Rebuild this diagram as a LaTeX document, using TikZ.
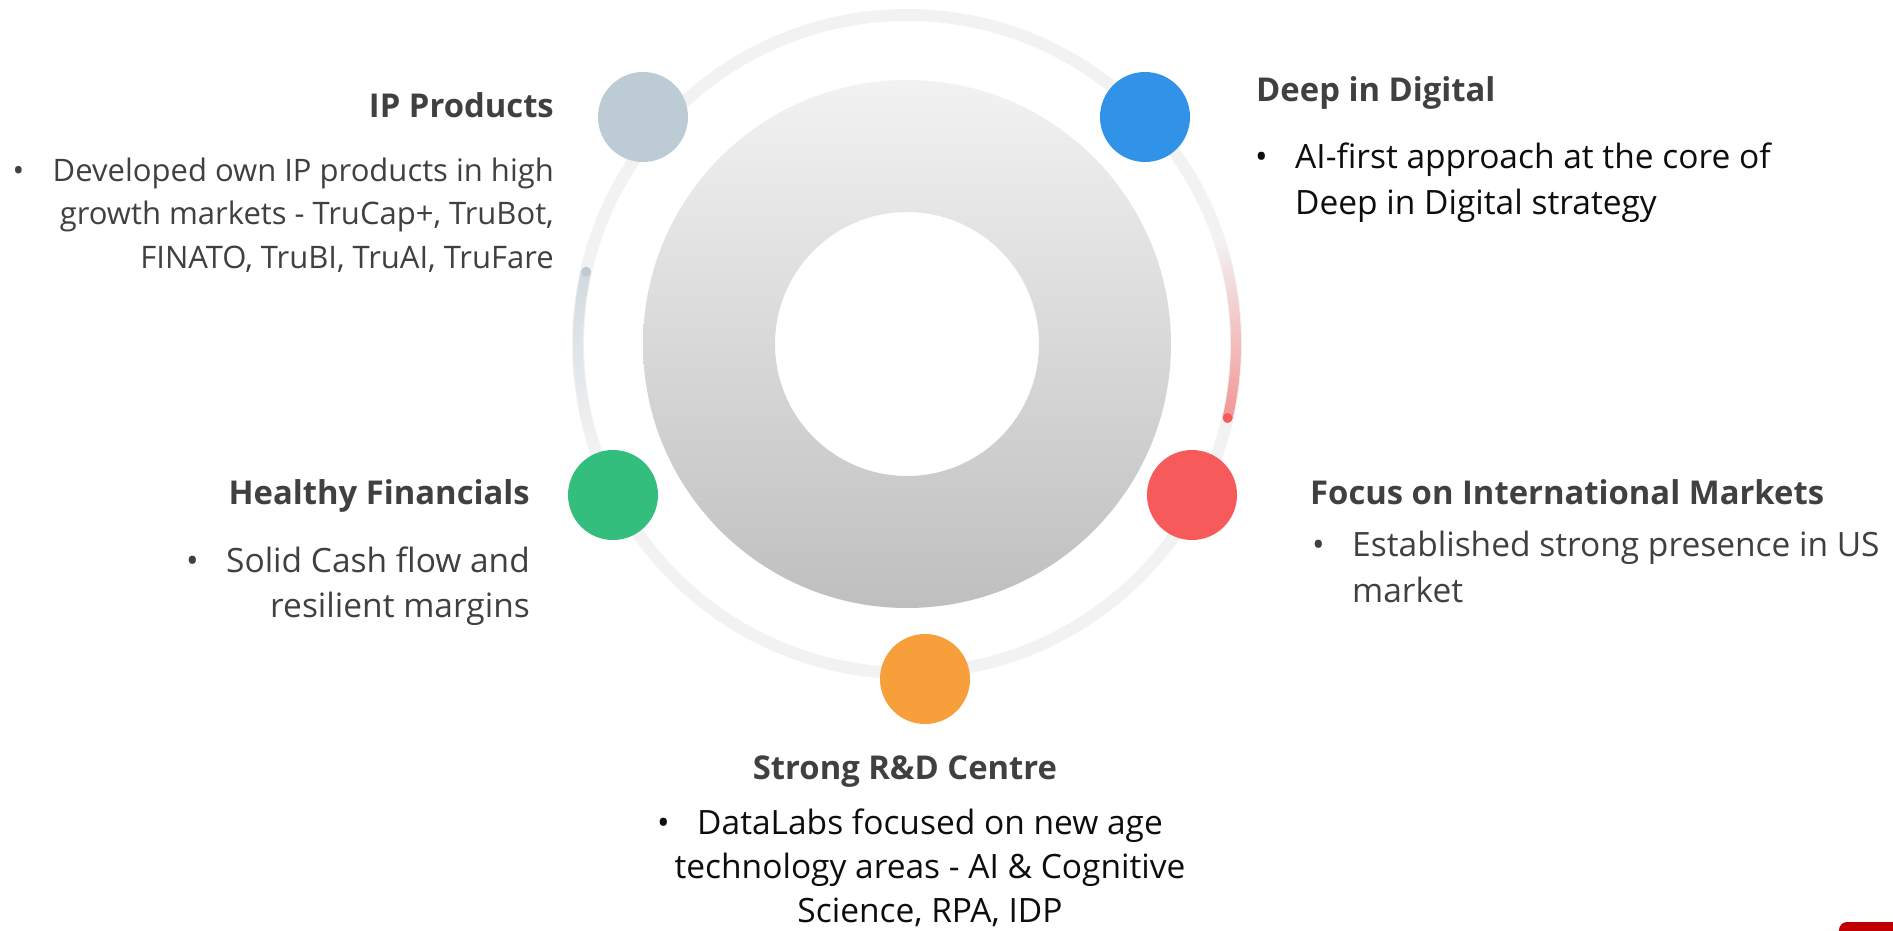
\documentclass[tikz,border=0pt]{standalone}
\usepackage{fontspec}
\setmainfont{Open Sans}
\usepackage{xcolor}
\usepackage{tikz}
\usetikzlibrary{positioning,calc}
\definecolor{ringgray}{HTML}{F2F2F2}
\definecolor{donuttop}{HTML}{F2F2F2}
\definecolor{donutbot}{HTML}{BFBFBF}
\definecolor{txtgray}{HTML}{404040}
\definecolor{txtdark}{HTML}{0D0D0D}
\definecolor{ipgray}{HTML}{BDCBD4}
\definecolor{digblue}{HTML}{3093E7}
\definecolor{fingreen}{HTML}{33BE7E}
\definecolor{intred}{HTML}{F65A5A}
\definecolor{rdorange}{HTML}{F79F3A}
\definecolor{brandred}{HTML}{C00000}
\newcommand{\bul}{\llap{\makebox[40pt][l]{\textbullet}}}
\tikzset{
  bubble/.style={circle,minimum size=90pt,inner sep=0pt,fill=#1},
  head/.style={font=\bfseries\fontsize{32.8}{40}\selectfont,text=txtgray,inner sep=0pt},
  body/.style={font=\fontsize{33.5}{#1}\selectfont,inner sep=0pt},
  body/.default=45,
}

\begin{document}
\begin{tikzpicture}[x=1pt,y=-1pt]
\useasboundingbox[fill=white] (0,0) rectangle (1893,931);
\coordinate (c) at (907,344);
\draw[ringgray,line width=12pt] (c) circle (329);
\foreach \k in {0,...,31}{
  \pgfmathtruncatemacro\pct{60-\k*60/31}
  \draw[line width=10pt,intred!\pct!ringgray] (c) ++(13-\k:329) arc[start angle=13-\k,end angle=11.8-\k,radius=329];
  \draw[line width=10pt,ipgray!\pct!ringgray] (c) ++(192.7-\k:329) arc[start angle=192.7-\k,end angle=191.5-\k,radius=329];
}
\fill[intred] (c) ++(13:329) circle (5);
\fill[ipgray] (c) ++(192.7:329) circle (5);
\shade[top color=donuttop,bottom color=donutbot,even odd rule] (c) circle (264) (c) circle (132);

\node[bubble=ipgray] (ip) at (643,117) {};
\node[bubble=digblue] (dig) at (1145,117) {};
\node[bubble=fingreen] (fin) at (613,495) {};
\node[bubble=intred] (intl) at (1192,495) {};
\node[bubble=rdorange] (rd) at (925,679) {};

\node[head,anchor=base east] (iphead) at (554,118) {IP Products};
\node[body=43.5,font=\fontsize{31}{43.5}\selectfont,text=txtgray,anchor=base east,align=right] (iptext) at (554,268)
  {\bul Developed own IP products in high\\growth markets - TruCap+, TruBot,\\FINATO, TruBI, TruAI, TruFare};
\node[head,anchor=base west] (dighead) at (1256,102) {Deep in Digital};
\node[body=46,text=txtdark,anchor=base west,align=left] (digtext) at (1295,214)
  {\bul AI-first approach at the core of\\Deep in Digital strategy};
\node[head,anchor=base east] (finhead) at (530,504) {Healthy Financials};
\node[body,text=txtgray,anchor=base east,align=right] (fintext) at (530,617)
  {\bul Solid Cash flow and\\resilient margins};
\node[head,anchor=base west] (intlhead) at (1310,504) {Focus on International Markets};
\node[body=46,text=txtgray,anchor=base west,align=left] (intltext) at (1352,602)
  {\bul Established strong presence in US\\market};
\node[head,anchor=base] (rdhead) at (905,779) {Strong R\&D Centre};
\node[body=44,text=txtdark,anchor=base,align=center] (rdtext) at (930,922)
  {\bul DataLabs focused on new age\\technology areas - AI \& Cognitive\\Science, RPA, IDP};

\fill[brandred,rounded corners=8pt] (1839,922) rectangle (1910,950);
\end{tikzpicture}
\end{document}
